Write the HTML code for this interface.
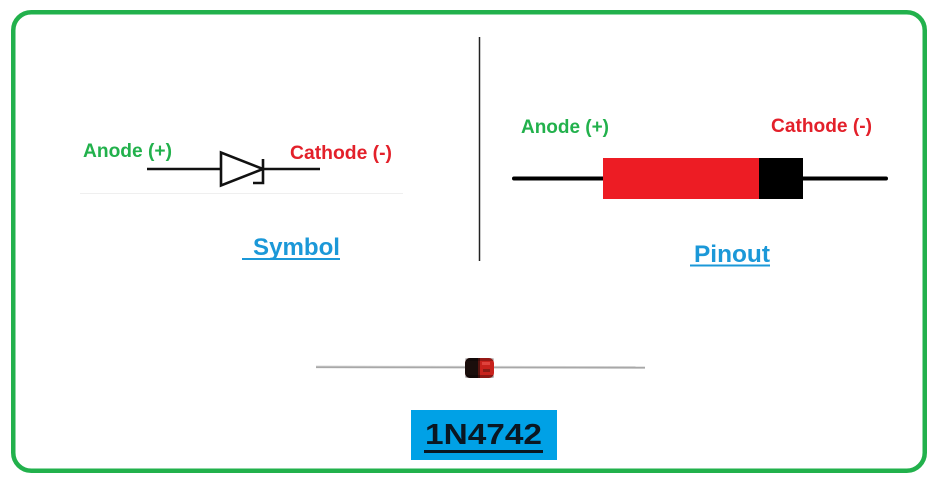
<!DOCTYPE html>
<html><head><meta charset="utf-8"><style>
html,body{margin:0;padding:0;background:#fff;}
svg{display:block;}
text{font-family:"Liberation Sans",Arial,sans-serif;font-weight:bold;}
</style></head><body>
<svg width="939" height="486" viewBox="0 0 939 486" xmlns="http://www.w3.org/2000/svg">
<rect x="0" y="0" width="939" height="486" fill="#fff"/>
<rect x="13.25" y="12.25" width="911.5" height="458.5" rx="18" ry="18" fill="none" stroke="#22b14c" stroke-width="4.5"/>
<!-- divider -->
<line x1="479.5" y1="37" x2="479.5" y2="261" stroke="#222" stroke-width="1.5"/>
<!-- Symbol side -->
<line x1="80" y1="193.5" x2="403" y2="193.5" stroke="#efefef" stroke-width="1"/>
<text x="83" y="157" font-size="19" fill="#22b14c" textLength="89" lengthAdjust="spacingAndGlyphs">Anode (+)</text>
<text x="290" y="159" font-size="19" fill="#e3202a" textLength="102" lengthAdjust="spacingAndGlyphs">Cathode (-)</text>
<line x1="147" y1="169" x2="221" y2="169" stroke="#111" stroke-width="2.6"/>
<line x1="263" y1="169" x2="320" y2="169" stroke="#111" stroke-width="2.6"/>
<polygon points="221,152.5 221,185.5 263,169" fill="none" stroke="#111" stroke-width="2.6" stroke-linejoin="miter"/>
<polyline points="263,159 263,183 253,183" fill="none" stroke="#111" stroke-width="2.6"/>
<text x="253" y="255" font-size="24" fill="#1b98d8" textLength="87" lengthAdjust="spacingAndGlyphs">Symbol</text>
<line x1="242" y1="259" x2="340" y2="259" stroke="#1b98d8" stroke-width="2"/>
<!-- Pinout side -->
<text x="521" y="133" font-size="19" fill="#22b14c" textLength="88" lengthAdjust="spacingAndGlyphs">Anode (+)</text>
<text x="771" y="132" font-size="19" fill="#e3202a" textLength="101" lengthAdjust="spacingAndGlyphs">Cathode (-)</text>
<line x1="514" y1="178.5" x2="886" y2="178.5" stroke="#000" stroke-width="4" stroke-linecap="round"/>
<rect x="603" y="158" width="156" height="41" fill="#ed1c24"/>
<rect x="759" y="158" width="44" height="41" fill="#000"/>
<text x="694" y="262" font-size="24" fill="#1b98d8" textLength="76" lengthAdjust="spacingAndGlyphs">Pinout</text>
<line x1="690" y1="265.5" x2="770" y2="265.5" stroke="#1b98d8" stroke-width="2"/>
<!-- photo diode -->
<line x1="316" y1="367" x2="645" y2="367.5" stroke="#a8a8a8" stroke-width="2.2"/>
<line x1="316" y1="366" x2="645" y2="366.5" stroke="#d8d8d8" stroke-width="0.8"/>
<rect x="465" y="358" width="29" height="20" rx="5" ry="5" fill="#c8221c"/>
<rect x="465" y="358" width="12" height="20" rx="5" ry="5" fill="#1a0e0c"/>
<rect x="472" y="358" width="6" height="20" fill="#1a0e0c"/>
<rect x="478" y="358" width="2" height="20" fill="#5a1410"/>
<rect x="482" y="362" width="8" height="3" fill="#e8504a" opacity="0.7"/>
<rect x="483" y="369" width="7" height="3" fill="#7a1a14" opacity="0.8"/>
<rect x="465" y="358" width="29" height="3" rx="1.5" fill="#000" opacity="0.25"/>
<rect x="465" y="375" width="29" height="3" rx="1.5" fill="#000" opacity="0.3"/>
<!-- 1N4742 label -->
<rect x="411" y="410" width="146" height="50" fill="#00a1e6"/>
<text x="425" y="444" font-size="29" fill="#0a1722" textLength="117" lengthAdjust="spacingAndGlyphs">1N4742</text>
<line x1="424" y1="451.5" x2="543" y2="451.5" stroke="#0a1722" stroke-width="3"/>
</svg>
</body></html>
